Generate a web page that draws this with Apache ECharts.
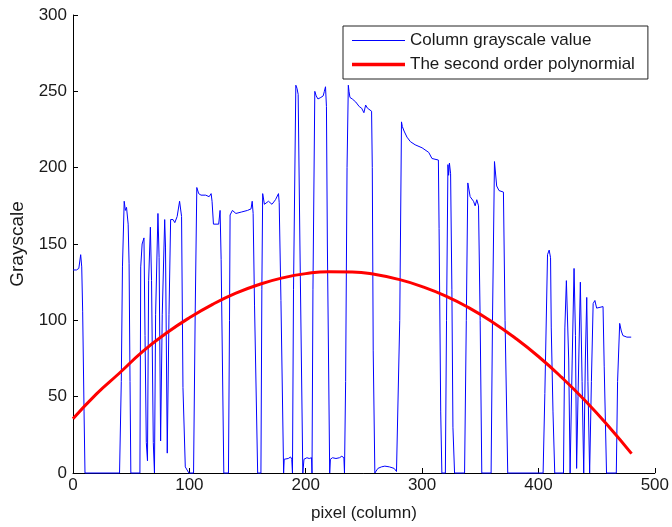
<!DOCTYPE html>
<html>
<head>
<meta charset="utf-8">
<script src="https://cdn.jsdelivr.net/npm/echarts@6/dist/echarts.min.js"></script>
<style>
  html, body { margin: 0; padding: 0; background: #fff; }
  #chart { width: 672px; height: 527px; }
</style>
</head>
<body>
<div id="chart"></div>
<script>
// column profile, [pixel column, grayscale]
const grayValues = [
  [0, 133], [3, 133], [5, 134], [6.6, 143], [7.5, 135], [8.3, 106], [9.5, 40], [10.3, 0],
  [40, 0], [41.5, 60], [42.5, 135], [44, 178], [45, 172], [46, 174], [47.4, 163], [48.2, 137], [49, 60], [49.7, 0],
  [57.5, 0], [58.2, 135], [59.4, 150], [61, 154], [61.9, 90], [63, 20], [64, 8], [65, 126], [66.5, 161],
  [67.5, 126], [69, 20], [70, 0], [71, 104], [73, 170], [74, 141], [75.3, 21], [76.7, 104], [78.8, 166],
  [79.5, 148], [81, 13], [82.5, 104], [83.9, 166], [86, 166], [87.5, 164], [89.5, 168], [91.6, 178],
  [93.3, 168], [94.5, 56], [96.5, 4], [99.6, 0],
  [103.6, 0], [105, 104], [106.4, 187], [108, 183], [110, 182], [114, 182], [117, 181], [118.7, 183],
  [119.5, 178], [120.7, 163], [125.2, 163], [126.4, 172], [127.3, 140], [129.6, 0],
  [133.6, 0], [134.5, 100], [135, 169], [137, 172], [140, 170], [145, 171], [150, 172], [153, 173],
  [154, 178], [154.8, 170], [156, 110], [158.7, 0],
  [161.5, 0], [162.3, 120], [163, 183], [164.5, 176], [168, 178], [171, 176], [174, 179], [176.6, 183],
  [177.2, 177], [178.7, 113], [181, 0], [181.5, 9], [183, 10], [185, 9.5], [187, 10.5], [188, 9], [188.6, 0],
  [189.5, 120], [191.5, 254], [192.5, 252], [193.5, 248], [195, 150], [197.5, 0],
  [198.5, 9], [201, 10], [203, 9.5], [205, 10], [205.4, 0],
  [206.2, 120], [207.8, 250], [209, 247], [210.5, 245], [213, 246], [215, 247], [216, 250], [217, 253],
  [217.8, 240], [218.6, 150], [220.6, 0],
  [221.2, 9], [223, 10], [226, 9.5], [229, 10], [231, 11], [232.8, 10], [233.3, 0],
  [234.3, 60], [235.5, 200], [236.6, 254], [237.2, 250], [238, 246], [240, 245], [243, 243], [246, 240],
  [248, 239], [250, 236], [251.5, 241], [253, 239], [256.6, 237], [257.2, 200], [258, 80], [259.4, 0],
  [260.5, 1], [262, 3], [265, 4], [268, 4.5], [272, 4], [276, 3], [278, 1], [279.5, 0],
  [280.8, 100], [282.3, 230], [283, 227], [284.5, 224], [287, 220], [290, 217], [294, 215], [300, 213],
  [305.7, 210], [308.5, 206], [314, 205], [314.6, 160], [316, 40], [317, 0],
  [320, 0], [321, 100], [322.2, 202], [322.8, 195], [323.5, 203], [324.5, 196], [325.6, 120], [326.5, 30], [327.9, 0],
  [336.5, 0], [338, 100], [339.3, 190], [341.3, 181], [344.2, 178], [345.6, 175], [347, 179], [348.5, 175],
  [349.9, 100], [351.3, 0],
  [359.3, 0], [360.5, 100], [362.2, 204], [364.1, 188], [366.1, 185], [369.9, 184], [371.3, 100], [373.6, 0],
  [404, 0], [405.5, 52], [407.8, 143], [409.2, 146], [410.4, 141], [411, 95], [412.5, 40], [414, 0],
  [421.5, 0], [422.7, 95], [424, 126], [424.8, 126], [426, 74], [427.2, 0], [429, 74], [430.6, 134],
  [431.8, 90], [432.8, 3], [434, 50], [436, 125], [437.5, 60], [438.9, 0], [440.3, 74], [441.5, 115],
  [442.5, 60], [444, 0], [445.5, 60], [447, 111], [448.5, 113], [450, 108], [455.5, 109], [456.5, 70], [458.5, 0],
  [466.9, 0], [468, 60], [469.8, 98], [471.2, 93], [472.6, 90], [476, 89], [479.7, 89]
];

// fitted curve, read every 20 columns
const fitColumns = [0, 20, 40, 60, 80, 100, 120, 140, 160, 180, 200, 220, 240,
  260, 280, 300, 320, 340, 360, 380, 400, 420, 440, 460, 480];
const fitValues = [35.5, 51.7, 65.5, 79.7, 91.5, 101.7, 110.5, 117.8, 123.5, 127.8, 130.6, 131.9, 131.7,
  130, 126.8, 122.1, 116, 108.3, 99.1, 88.4, 76.3, 62.6, 47.5, 30.8, 12.7];

const xTicks = [0, 100, 200, 300, 400, 500];
const yTicks = [0, 50, 100, 150, 200, 250, 300];

const font = "'Liberation Sans', Arial, sans-serif";
const ink = "#1a1a1a";

const chart = echarts.init(document.getElementById("chart"), null, { renderer: "canvas" });

chart.setOption({
  animation: false,
  grid: { left: 73, top: 15, width: 584, height: 461 },
  legend: {
    orient: "vertical",
    left: 343,
    top: 26,
    padding: [6, 13, 6, 9],
    itemGap: 7,
    itemWidth: 53,
    itemHeight: 14,
    backgroundColor: "#fff",
    borderColor: "#222",
    borderWidth: 1,
    borderRadius: 0,
    textStyle: { fontFamily: font, fontSize: 17, color: ink, lineHeight: 17 },
    data: [
      { name: "Column grayscale value", icon: "path://M0,0H53V1H0Z" },
      { name: "The second order polynormial", icon: "path://M0,0H53V3.5H0Z" },
    ],
  },
  xAxis: {
    type: "value",
    min: xTicks[0],
    max: xTicks[xTicks.length - 1],
    interval: 100,
    name: "pixel (column)",
    nameLocation: "middle",
    nameGap: 32,
    nameTextStyle: { fontFamily: font, fontSize: 17, color: ink },
    axisLine: { show: true, onZero: false, lineStyle: { color: "#000", width: 1 } },
    axisTick: { show: true, inside: true, length: 5, lineStyle: { color: "#000" } },
    axisLabel: { margin: 4, fontFamily: font, fontSize: 17, color: ink },
    splitLine: { show: false },
  },
  yAxis: {
    type: "value",
    min: yTicks[0],
    max: yTicks[yTicks.length - 1],
    interval: 50,
    name: "Grayscale",
    nameLocation: "middle",
    nameGap: 46,
    nameTextStyle: { fontFamily: font, fontSize: 19, color: ink },
    axisLine: { show: true, lineStyle: { color: "#000", width: 1 } },
    axisTick: { show: true, inside: true, length: 5, lineStyle: { color: "#000" } },
    axisLabel: { margin: 6, fontFamily: font, fontSize: 17, color: ink },
    splitLine: { show: false },
  },
  series: [
    {
      name: "Column grayscale value",
      type: "line",
      data: grayValues,
      symbol: "none",
      showSymbol: false,
      clip: false,
      lineStyle: { color: "#0000ff", width: 1 },
      itemStyle: { color: "#0000ff" },
    },
    {
      name: "The second order polynormial",
      type: "line",
      data: fitColumns.map((x, i) => [x, fitValues[i]]),
      symbol: "none",
      showSymbol: false,
      smooth: true,
      lineStyle: { color: "#ff0000", width: 3 },
      itemStyle: { color: "#ff0000" },
    },
  ],
});
</script>
</body>
</html>
